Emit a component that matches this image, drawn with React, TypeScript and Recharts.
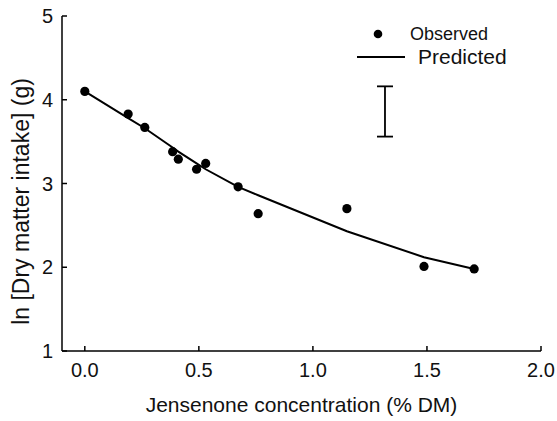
import { ComposedChart, Scatter, Line, XAxis, YAxis, ErrorBar } from 'recharts'

// ─── Data ────────────────────────────────────────────────────────
const concentration = [0, 0.19, 0.263, 0.385, 0.41, 0.49, 0.53, 0.672, 0.76, 1.149, 1.487, 1.707]
const observedIntake = [4.10, 3.83, 3.67, 3.38, 3.29, 3.17, 3.24, 2.96, 2.64, 2.70, 2.01, 1.98]
const predictedIntake = [4.10, 3.78, 3.66, 3.43, 3.38, 3.24, 3.17, 2.96, 2.86, 2.43, 2.12, 1.98]

const xTicks = [0, 0.5, 1, 1.5, 2]
const yTicks = [1, 2, 3, 4, 5]

// representative error bar (x, mean, half-range)
const errorBarX = [1.316]
const errorBarMid = [3.86]
const errorBarHalf = [0.30]

const observed = concentration.map((x, i) => ({ x, y: observedIntake[i] }))
const predicted = concentration.map((x, i) => ({ x, y: predictedIntake[i] }))
const errorData = errorBarX.map((x, i) => ({ x, y: errorBarMid[i], err: errorBarHalf[i] }))

const FONT = '"Liberation Sans", Arial, Helvetica, sans-serif'
const tickStyle = { fontSize: 20, fill: '#111', fontFamily: FONT }

const Dot = (p: any) => <circle cx={p.cx} cy={p.cy} r={4.6} fill="#000" />
const NoDot = () => <g />

export default function App() {
  return (
    <div style={{ position: 'absolute', left: 0, top: 0, width: 557, height: 421, background: '#fff' }}>
      <ComposedChart width={557} height={421} margin={{ top: 16, right: 16, left: 0, bottom: 0 }}>
        <XAxis dataKey="x" type="number" domain={[-0.1, 2]} ticks={xTicks} allowDataOverflow
          tickFormatter={v => v.toFixed(1)} tick={tickStyle} height={70}
          stroke="#000" strokeWidth={1.5} tickSize={-5} tickMargin={17}
          label={{ value: 'Jensenone concentration (% DM)', position: 'center', dy: 19, style: { fontSize: 21, fill: '#111', fontFamily: FONT } }} />
        <YAxis dataKey="y" type="number" domain={[1, 5]} ticks={yTicks} allowDataOverflow
          tick={tickStyle} width={62}
          stroke="#000" strokeWidth={1.5} tickSize={-5} tickMargin={14}
          label={{ value: 'ln [Dry matter intake] (g)', angle: -90, position: 'center', dx: -10, dy: 18, style: { fontSize: 23, fill: '#111', fontFamily: FONT } }} />
        <Line data={predicted} dataKey="y" type="linear" stroke="#000" strokeWidth={2}
          dot={false} activeDot={false} isAnimationActive={false} />
        <Scatter data={observed} dataKey="y" shape={Dot} isAnimationActive={false} />
        <Scatter data={errorData} dataKey="y" shape={NoDot} isAnimationActive={false}>
          <ErrorBar dataKey="err" width={8} stroke="#000" strokeWidth={1.8} direction="y" isAnimationActive={false} />
        </Scatter>
      </ComposedChart>
      <svg width={557} height={421} style={{ position: 'absolute', left: 0, top: 0, pointerEvents: 'none' }}>
        <circle cx={378} cy={34} r={4.3} fill="#000" />
        <text x={410} y={40} fontSize={18} fontFamily={FONT} fill="#111">Observed</text>
        <line x1={357} x2={405} y1={57} y2={57} stroke="#000" strokeWidth={2} />
        <text x={418} y={64} fontSize={21} fontFamily={FONT} fill="#111">Predicted</text>
      </svg>
    </div>
  )
}
